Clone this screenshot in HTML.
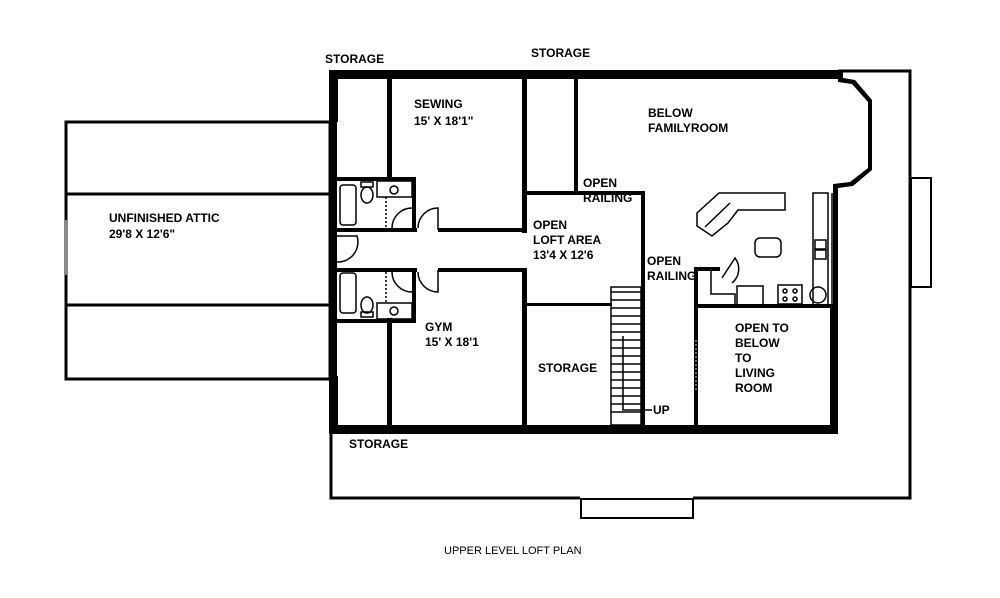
<!DOCTYPE html>
<html><head><style>
html,body{margin:0;padding:0;background:#fff;}
svg{display:block}
text{font-family:"Liberation Sans",Arial,sans-serif;font-weight:bold;font-size:12px;fill:#000;}
</style></head><body>
<svg width="1000" height="598" viewBox="0 0 1000 598" xmlns="http://www.w3.org/2000/svg">
<rect width="1000" height="598" fill="#fff"/>
<!-- porch outline -->
<g fill="none" stroke="#000" stroke-width="3">
<polyline points="838,71 910,71 910,498 693,498"/>
<polyline points="580,498 331,498 331,430"/>
<rect x="581" y="499" width="112" height="19" stroke-width="2"/>
<rect x="911" y="178" width="20" height="109" stroke-width="2"/>
<!-- attic -->
<rect x="66" y="122" width="264" height="257"/>
<line x1="66" y1="194" x2="330" y2="194"/>
<line x1="66" y1="305" x2="330" y2="305"/>
</g>
<line x1="66" y1="220" x2="66" y2="275" stroke="#888" stroke-width="4"/>
<!-- thick walls -->
<g fill="#000">
<rect x="329" y="70" width="510" height="9"/>
<rect x="329" y="70" width="8" height="360"/>
<rect x="329" y="70" width="9" height="52"/>
<rect x="329" y="376" width="9" height="54"/>
<rect x="329" y="425" width="509" height="9"/>
<rect x="830" y="305" width="8" height="129"/>
<rect x="696" y="304" width="142" height="4"/>
<rect x="387" y="70" width="5" height="110"/>
<rect x="387" y="318" width="5" height="112"/>
<rect x="522" y="70" width="5" height="163"/>
<rect x="522" y="268" width="5" height="162"/>
<rect x="574" y="70" width="4" height="123"/>
<rect x="526" y="191" width="119" height="4"/>
<rect x="641" y="191" width="4" height="238"/>
<rect x="526" y="303" width="86" height="3"/>
<rect x="694" y="267" width="4" height="163"/>
<rect x="694" y="267" width="26" height="4"/>
<!-- corridor walls -->
<rect x="337" y="228" width="80" height="4"/>
<rect x="438" y="228" width="88" height="4"/>
<rect x="337" y="268" width="80" height="4"/>
<rect x="438" y="268" width="88" height="4"/>
<!-- bath boxes -->
<rect x="337" y="177" width="78" height="4"/>
<rect x="412" y="177" width="4" height="55"/>
<rect x="337" y="319" width="78" height="4"/>
<rect x="412" y="268" width="4" height="55"/>
</g>
<!-- bay -->
<polygon points="838,70 838,82 852,84 868,102 868,168 850,182 833,184 833,305 838,305 838,188 853,186 872,170 872,100 855,80 843,78 843,70" fill="#000"/>
<g fill="none" stroke="#000" stroke-width="1.5">
<!-- baths fixtures -->
<rect x="340" y="185" width="16" height="40" rx="3"/>
<rect x="340" y="273" width="16" height="40" rx="3"/>
<ellipse cx="367" cy="195" rx="6" ry="8"/><rect x="361" y="182" width="12" height="5"/>
<ellipse cx="367" cy="305" rx="6" ry="8"/><rect x="361" y="312" width="12" height="5"/>
<rect x="377" y="181" width="35" height="16"/><circle cx="394" cy="190" r="4"/>
<rect x="377" y="303" width="35" height="16"/><circle cx="394" cy="311" r="4"/>
<line x1="386" y1="197" x2="386" y2="228" stroke-dasharray="2,2"/>
<line x1="386" y1="272" x2="386" y2="303" stroke-dasharray="2,2"/>
<!-- doors -->
<path d="M392,228 A20,20 0 0 1 412,208"/>
<path d="M392,272 A20,20 0 0 0 412,292"/>
<path d="M438,230 L438,208 A20,20 0 0 0 418,228"/>
<path d="M438,270 L438,292 A20,20 0 0 1 418,272"/>
<path d="M337,236 L357,236 A20,20 0 0 1 337,262"/>
<!-- stairs -->
<rect x="611" y="287" width="30" height="138"/>
<path d="M611,292 H641 M611,300 H641 M611,308 H641 M611,316 H641 M611,324 H641 M611,332 H641 M611,340 H641 M611,348 H641 M611,356 H641 M611,364 H641 M611,372 H641 M611,380 H641 M611,388 H641 M611,396 H641 M611,404 H641 M611,412 H641"/>
<polyline points="623,336 623,410 652,410"/>
<line x1="642" y1="400" x2="642" y2="425"/>
<!-- kitchen -->
<polygon points="697,213 719,193 785,193 785,210 738,210 728,223 712,236 697,226"/>
<line x1="705" y1="227" x2="730" y2="203"/>
<rect x="755" y="238" width="26" height="19" rx="5"/>
<rect x="813" y="193" width="15" height="112"/>
<rect x="815" y="240" width="11" height="9"/><rect x="815" y="250" width="11" height="9"/>
<line x1="832" y1="193" x2="832" y2="305"/>
<rect x="778" y="285" width="24" height="19"/>
<circle cx="785" cy="291" r="2"/><circle cx="795" cy="291" r="2"/><circle cx="785" cy="299" r="2"/><circle cx="795" cy="299" r="2"/>
<circle cx="818" cy="295" r="8"/>
<rect x="737" y="286" width="26" height="19"/>
<polyline points="711,271 711,294 735,294 735,305"/>
<path d="M722,278 L735,258 A18,18 0 0 1 732,283"/>
<line x1="696" y1="340" x2="696" y2="392" stroke="#888" stroke-dasharray="2,2"/>
</g>
<!-- labels -->
<text x="325" y="63">STORAGE</text>
<text x="531" y="57">STORAGE</text>
<text x="414" y="108">SEWING</text>
<text x="414" y="125">15' X 18'1"</text>
<text x="648" y="117">BELOW</text>
<text x="648" y="132">FAMILYROOM</text>
<text x="583" y="187">OPEN</text>
<text x="583" y="202">RAILING</text>
<text x="533" y="229">OPEN</text>
<text x="533" y="244">LOFT AREA</text>
<text x="533" y="259">13'4 X 12'6</text>
<text x="647" y="265">OPEN</text>
<text x="647" y="280">RAILING</text>
<text x="109" y="222">UNFINISHED ATTIC</text>
<text x="109" y="238">29'8 X 12'6"</text>
<text x="425" y="331">GYM</text>
<text x="425" y="346">15' X 18'1</text>
<text x="538" y="372">STORAGE</text>
<text x="653" y="414">UP</text>
<text x="735" y="332">OPEN TO</text>
<text x="735" y="347">BELOW</text>
<text x="735" y="362">TO</text>
<text x="735" y="377">LIVING</text>
<text x="735" y="392">ROOM</text>
<text x="349" y="448">STORAGE</text>
<text x="444" y="554" style="font-weight:normal;font-size:11px">UPPER LEVEL LOFT PLAN</text>
</svg>
</body></html>
